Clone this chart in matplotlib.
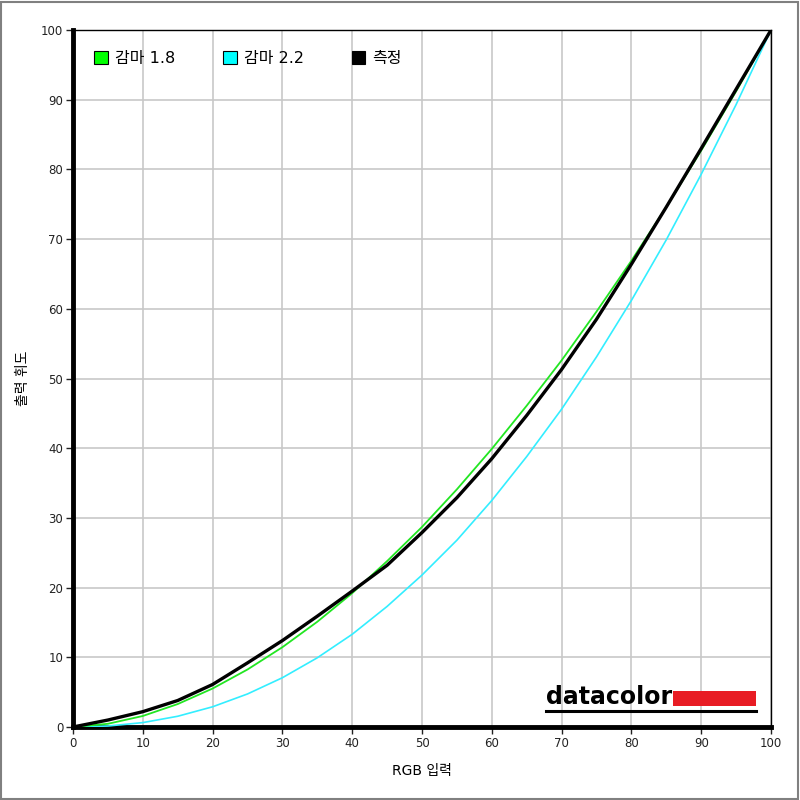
import numpy as np
import matplotlib.pyplot as plt
from matplotlib.patches import Patch, Rectangle

plt.rcParams['font.family'] = ['DejaVu Sans', 'Noto Sans CJK KR']

# RGB input (%) at 5-step samples
x_in = [0, 5, 10, 15, 20, 25, 30, 35, 40, 45, 50,
        55, 60, 65, 70, 75, 80, 85, 90, 95, 100]

# reference gamma 1.8 curve (output luminance, %)
gamma18 = [0, 0.46, 1.58, 3.29, 5.52, 8.25, 11.45, 15.1, 19.2, 23.8, 28.7,
           34.1, 39.9, 46.1, 52.6, 59.6, 66.9, 74.6, 82.7, 91.2, 100]

# reference gamma 2.2 curve
gamma22 = [0, 0.14, 0.63, 1.54, 2.90, 4.74, 7.07, 9.93, 13.3, 17.3, 21.8,
           26.8, 32.5, 38.8, 45.6, 53.1, 61.2, 69.9, 79.3, 89.3, 100]

# measured curve
measured = [0, 1.0, 2.2, 3.8, 6.1, 9.2, 12.4, 15.9, 19.5, 23.2, 27.9,
            32.9, 38.5, 44.7, 51.3, 58.5, 66.4, 74.6, 83.0, 91.5, 100]

labels = ["감마 1.8", "감마 2.2", "측정"]
colors = ["#22e622", "#33eeff", "#000000"]
legend_colors = ["#00ff00", "#00ffff", "#000000"]

#%%
fig = plt.figure(figsize=(8, 8), dpi=100)
fig.patches.append(Rectangle((0.001, 0.001), 0.997, 0.997, transform=fig.transFigure,
                             fill=False, edgecolor="#808080", linewidth=1.5))
ax = fig.add_axes([0.09125, 0.09125, 0.8725, 0.87125])

ax.plot(x_in, gamma22, color=colors[1], lw=1.2, zorder=3)
ax.plot(x_in, gamma18, color=colors[0], lw=1.3, zorder=4)
ax.plot(x_in, measured, color=colors[2], lw=2.4, zorder=5)

ax.set_xlim(0, 100)
ax.set_ylim(0, 100)
ax.set_xticks(np.arange(0, 101, 10))
ax.set_yticks(np.arange(0, 101, 10))
ax.grid(True, color="#c8c8c8", lw=1.2)
ax.set_axisbelow(True)
ax.tick_params(direction="out", length=5, width=1, labelsize=8.5, pad=2, colors="#222222")

ax.spines["left"].set_linewidth(3.5)
ax.spines["bottom"].set_linewidth(3.5)
ax.spines["top"].set_linewidth(1)
ax.spines["right"].set_linewidth(1)

ax.set_xlabel("RGB 입력", fontsize=10, labelpad=10)
ax.set_ylabel("출력 휘도", fontsize=10, labelpad=8)

handles = [Patch(facecolor=c, edgecolor="black", linewidth=0.8) for c in legend_colors]
ax.legend(handles, labels, loc="upper left", bbox_to_anchor=(0.012, 0.988), ncol=3,
          frameon=False, fontsize=11.5, handlelength=0.85, handleheight=0.85,
          handletextpad=0.45, columnspacing=3.0, borderpad=0.3)

# datacolor logo
ax.text(0.677, 0.043, "datacolor", transform=ax.transAxes, fontsize=17,
        fontweight="bold", ha="left", va="center", color="black", zorder=6)
ax.add_patch(Rectangle((0.859, 0.030), 0.120, 0.022, transform=ax.transAxes,
                       facecolor="#e81c24", edgecolor="none", zorder=6))
ax.plot([0.677, 0.979], [0.023, 0.023], transform=ax.transAxes,
        color="black", lw=2.2, zorder=6)

fig.savefig("out.png", dpi=100)
